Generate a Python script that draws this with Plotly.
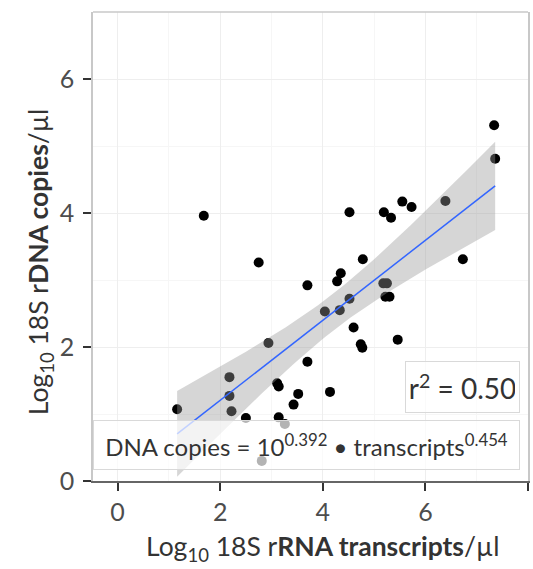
import numpy as np
import plotly.graph_objects as go

# Data (log10 units)
rna_transcripts = [7.34, 7.36, 6.39, 1.68, 4.52, 5.19, 5.33, 5.55, 5.73, 2.75,
                   4.78, 6.73, 3.70, 4.35, 4.28, 5.18, 5.25, 5.22, 5.30, 4.52,
                   4.04, 4.33, 4.60, 4.74, 4.77, 5.46, 2.94, 3.70, 2.18, 2.18,
                   2.22, 1.16, 2.50, 3.11, 3.14, 3.52, 3.43, 4.14, 3.14, 3.26,
                   2.81]
dna_copies = [5.31, 4.81, 4.18, 3.96, 4.01, 4.01, 3.93, 4.17, 4.09, 3.26,
              3.31, 3.31, 2.92, 3.10, 2.98, 2.95, 2.95, 2.75, 2.75, 2.72,
              2.53, 2.55, 2.29, 2.04, 1.99, 2.11, 2.06, 1.78, 1.55, 1.27,
              1.04, 1.07, 0.94, 1.46, 1.41, 1.30, 1.14, 1.33, 0.95, 0.85,
              0.30]
x_ticks = [0, 2, 4, 6, 8]
y_ticks = [0, 2, 4, 6]
r2_label = "r<sup>2</sup> = 0.50"
eq_label = "DNA copies = 10<sup>0.392</sup> \u2022 transcripts<sup>0.454</sup>"

x = np.array(rna_transcripts)
y = np.array(dna_copies)
n = len(x)
slope, intercept = np.polyfit(x, y, 1)
xs = np.linspace(x.min(), x.max(), 80)
fit = intercept + slope * xs
resid = y - (intercept + slope * x)
s = np.sqrt(np.sum(resid ** 2) / (n - 2))
xm = x.mean()
sxx = np.sum((x - xm) ** 2)
t_crit = 2.023
se = s * np.sqrt(1.0 / n + (xs - xm) ** 2 / sxx)
upper = fit + t_crit * se
lower = fit - t_crit * se

fig = go.Figure()
fig.add_trace(go.Scatter(x=x, y=y, mode="markers",
                         marker=dict(color="black", size=10),
                         showlegend=False, hoverinfo="skip"))
fig.add_trace(go.Scatter(x=np.concatenate([xs, xs[::-1]]),
                         y=np.concatenate([upper, lower[::-1]]),
                         mode="lines", fill="toself",
                         fillcolor="rgba(153,153,153,0.4)",
                         line=dict(width=0), showlegend=False, hoverinfo="skip"))
fig.add_trace(go.Scatter(x=xs, y=fit, mode="lines",
                         line=dict(color="#3366FF", width=1.5),
                         showlegend=False, hoverinfo="skip"))

font_family = "Lato, Carlito, Calibri, sans-serif"
fig.update_layout(
    width=533, height=569,
    margin=dict(l=93, r=3, t=12, b=88),
    paper_bgcolor="white", plot_bgcolor="white",
    font=dict(family=font_family, color="#333333"),
    xaxis=dict(range=[-0.48, 8.0], tickvals=x_ticks, showgrid=True,
               gridcolor="#eeeeee", gridwidth=1,
               minor=dict(dtick=1, showgrid=True, gridcolor="#f6f6f6"),
               zeroline=False, showline=True, linecolor="#666666", linewidth=1.5,
               ticks="outside", ticklen=8, tickwidth=2, tickcolor="#333333",
               tickfont=dict(size=25, color="#4d4d4d")),
    yaxis=dict(range=[0, 7.0], tickvals=y_ticks, showgrid=True,
               gridcolor="#eeeeee", gridwidth=1,
               minor=dict(dtick=1, showgrid=True, gridcolor="#f6f6f6"),
               zeroline=False, showline=True, linecolor="#c8c8c8", linewidth=1.5,
               mirror=True, ticklabelstandoff=4,
               ticks="outside", ticklen=8, tickwidth=2, tickcolor="#333333",
               tickfont=dict(size=25, color="#4d4d4d")),
)
fig.add_shape(type="line", xref="paper", yref="paper", x0=0, x1=1, y0=1, y1=1,
              line=dict(color="#c8c8c8", width=1.5))

fig.add_annotation(xref="paper", yref="paper", x=0.982, y=0.145,
                   xanchor="right", yanchor="bottom", text=r2_label,
                   showarrow=False, font=dict(size=28, color="#333333"),
                   width=105, height=42, borderpad=4,
                   bordercolor="#d9d9d9", borderwidth=1,
                   bgcolor="rgba(255,255,255,0.7)")
fig.add_annotation(xref="paper", yref="paper", x=0.982, y=0.023,
                   xanchor="right", yanchor="bottom", text=eq_label,
                   showarrow=False, font=dict(size=24, color="#333333"),
                   width=417, height=40, borderpad=4,
                   bordercolor="#d9d9d9", borderwidth=1,
                   bgcolor="rgba(255,255,255,0.7)")

fig.add_annotation(xref="paper", yref="paper", x=(324 - 93) / 437, y=-(548 - 481) / 469,
                   xanchor="center", yanchor="middle", showarrow=False,
                   text="Log<sub>10</sub> 18S r<b>RNA transcripts</b>/\u00b5l",
                   font=dict(size=26.5, color="#333333"))
fig.add_annotation(xref="paper", yref="paper", x=-(93 - 40) / 437, y=(481 - 262) / 469,
                   xanchor="center", yanchor="middle", showarrow=False, textangle=-90,
                   text="Log<sub>10</sub> 18S r<b>DNA copies</b>/\u00b5l",
                   font=dict(size=26.5, color="#333333"))

fig.write_html("out.html")
